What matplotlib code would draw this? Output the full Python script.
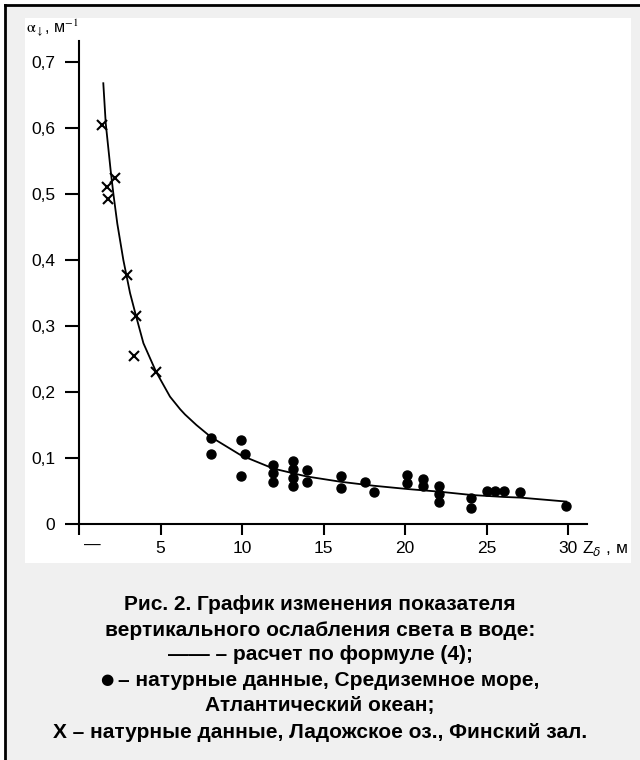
import matplotlib
matplotlib.use("Agg")
import matplotlib.pyplot as plt
from matplotlib.patches import Rectangle
from matplotlib.lines import Line2D

plt.rcParams['font.family'] = ['Liberation Sans', 'DejaVu Sans']

# curve "расчет по формуле (4)"
curve_z = [1.49, 1.64, 1.94, 2.11, 2.35, 2.72, 3.13, 3.50, 3.95, 4.72, 5.58, 6.20, 6.50, 7.20,
           8.08, 9.94, 11.92, 13.97, 16.05, 18.06, 20.14, 22.09, 24.05, 26.03, 27.06, 29.88]
curve_a = [0.668, 0.607, 0.536, 0.500, 0.455, 0.400, 0.350, 0.315, 0.274, 0.231, 0.193, 0.174, 0.166, 0.150,
           0.132, 0.104, 0.084, 0.072, 0.064, 0.058, 0.053, 0.049, 0.044, 0.041, 0.040, 0.034]

# Ладожское оз., Финский зал. (crosses)
cross_z = [1.39, 2.21, 1.74, 1.80, 2.92, 3.50, 3.39, 4.72]
cross_a = [0.605, 0.525, 0.510, 0.493, 0.378, 0.315, 0.255, 0.231]

# Средиземное море, Атлантический океан (dots)
dot_z = [8.08, 8.08, 9.94, 10.18, 9.94, 11.92, 11.92, 11.92, 13.11, 13.11, 13.11, 13.11,
         13.97, 13.97, 16.05, 16.05, 17.55, 18.06, 20.14, 20.14, 21.12, 21.12,
         22.09, 22.09, 22.09, 24.05, 24.05, 25.01, 25.52, 26.03, 27.06, 29.88]
dot_a = [0.131, 0.106, 0.127, 0.106, 0.073, 0.089, 0.077, 0.064, 0.096, 0.084, 0.069, 0.058,
         0.082, 0.064, 0.072, 0.054, 0.064, 0.048, 0.074, 0.062, 0.068, 0.057,
         0.058, 0.045, 0.033, 0.039, 0.024, 0.050, 0.050, 0.050, 0.048, 0.028]

yticks = [0, 0.1, 0.2, 0.3, 0.4, 0.5, 0.6, 0.7]
ylabels = ['0', '0,1', '0,2', '0,3', '0,4', '0,5', '0,6', '0,7']
xticks = [0, 5, 10, 15, 20, 25, 30]
xlabels = ['', '5', '10', '15', '20', '25', '30']

caption = [
    "Рис. 2. График изменения показателя",
    "вертикального ослабления света в воде:",
    "—— – расчет по формуле (4);",
    "– натурные данные, Средиземное море,",
    "Атлантический океан;",
    "Х – натурные данные, Ладожское оз., Финский зал.",
]

W, H = 640, 760
fig = plt.figure(figsize=(6.4, 7.6), dpi=100, facecolor='white')

def px(x, y):
    return x / W, 1 - y / H

# grey page, black edge on the left and top, white plot panel
fig.patches.append(Rectangle(px(6, 760), 1, 754 / H, transform=fig.transFigure,
                             facecolor='#f0f0f0', edgecolor='none', zorder=-10))
fig.patches.append(Rectangle(px(25, 563), 606 / W, 545 / H, transform=fig.transFigure,
                             facecolor='white', edgecolor='none', zorder=-9))
fig.lines.append(Line2D([5 / W, 5 / W], [0, 1 - 5 / H], transform=fig.transFigure,
                        color='black', lw=2))
fig.lines.append(Line2D([5 / W, 1], [1 - 5 / H, 1 - 5 / H], transform=fig.transFigure,
                        color='black', lw=2))

ax = fig.add_axes([79 / W, 1 - 524 / H, 508 / W, 483 / H])
ax.set_facecolor('none')

ax.plot(curve_z, curve_a, color='black', lw=1.3, solid_joinstyle='round')
ax.plot(cross_z, cross_a, 'x', color='black', ms=6.5, mew=1.5)
ax.plot(dot_z, dot_a, 'o', color='black', ms=6.5)

ax.set_xlim(0, 31.15)
ax.set_ylim(0, 0.732)
ax.spines['top'].set_visible(False)
ax.spines['right'].set_visible(False)
ax.spines['left'].set_linewidth(1.5)
ax.spines['bottom'].set_linewidth(1.5)

ax.set_yticks(yticks)
ax.set_yticklabels(ylabels)
ax.set_xticks(xticks)
ax.set_xticklabels(xlabels)
ax.tick_params(axis='y', direction='out', length=10, width=1.5, pad=7, labelsize=12.5)
ax.tick_params(axis='x', direction='out', length=8, width=1.5, pad=4, labelsize=12.5)

# stray dash under the origin, as in the original
ax.text(0.8, -0.033, "—", ha='center', va='center', fontsize=12)

fig.text(*px(582, 549), "Z$_{\\delta}$ , м", ha='left', va='center', fontsize=12.5)
fig.text(*px(26, 28), "$\\mathrm{\\alpha}_{\\downarrow}$, м$^{-1}$", ha='left', va='center',
         fontsize=11.5, math_fontfamily='stix')

ys = [605, 630, 655, 680, 706, 733]
texts = []
for i, (line, y) in enumerate(zip(caption, ys)):
    t = fig.text(*px(320, y), line, ha='left' if i == 3 else 'center', va='center',
                 fontsize=15, fontweight='bold')
    texts.append(t)

# 4th caption line: a bullet, a small gap, then the text, centred together
dot = fig.text(*px(0, 679), "●", ha='left', va='center', fontsize=11, family='DejaVu Sans')
fig.canvas.draw()
w_dot = dot.get_window_extent().width
w_txt = texts[3].get_window_extent().width
gap = 5
x0 = 320 - (w_dot + gap + w_txt) / 2
dot.set_x(x0 / W)
texts[3].set_x((x0 + w_dot + gap) / W)

fig.savefig("out.png", dpi=100, facecolor=fig.get_facecolor())
